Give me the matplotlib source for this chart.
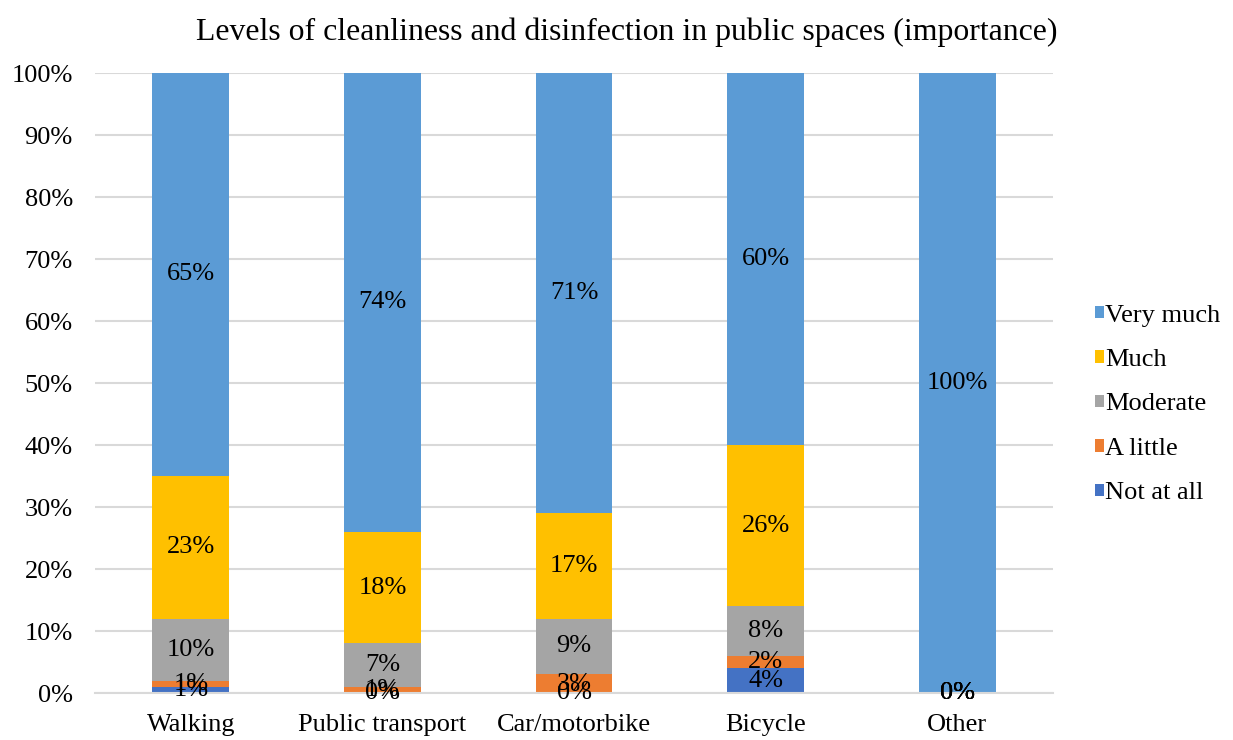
import matplotlib
matplotlib.use("Agg")
import matplotlib.pyplot as plt
import numpy as np

modes = ["Walking", "Public transport", "Car/motorbike", "Bicycle", "Other"]
levels = ["Not at all", "A little", "Moderate", "Much", "Very much"]
not_at_all = [1, 0, 0, 4, 0]
a_little = [1, 1, 3, 2, 0]
moderate = [10, 7, 9, 8, 0]
much = [23, 18, 17, 26, 0]
very_much = [65, 74, 71, 60, 100]
series = [not_at_all, a_little, moderate, much, very_much]
colors = ["#4472C4", "#ED7D31", "#A5A5A5", "#FFC000", "#5B9BD5"]

plt.rcParams["font.family"] = ["Liberation Serif", "DejaVu Serif"]

fig = plt.figure(figsize=(12.33, 7.40), dpi=100)
ax = fig.add_axes([95 / 1233, 1 - 693 / 740, (1053 - 95) / 1233, (693 - 73) / 740])

x = np.arange(len(modes))
bottom = np.zeros(len(modes))
handles = []
for name, vals, col in zip(levels, series, colors):
    vals = np.array(vals, dtype=float)
    h = ax.bar(x, vals, 0.4, bottom=bottom, color=col, label=name, zorder=2)
    handles.append(h)
    for xi, b, v in zip(x, bottom, vals):
        ax.text(xi, b + v / 2, f"{int(v)}%", ha="center", va="center",
                fontsize=19, color="black", zorder=3)
    bottom += vals

ax.set_xlim(-0.5, len(modes) - 0.5)
ax.set_ylim(0, 100)
ax.set_yticks(np.arange(0, 101, 10))
ax.set_yticklabels([f"{v}%" for v in range(0, 101, 10)], fontsize=19)
ax.set_xticks(x)
ax.set_xticklabels(modes, fontsize=19)
ax.tick_params(axis="y", length=0, pad=16)
ax.tick_params(axis="x", length=0, pad=15)
ax.yaxis.grid(True, color="#D9D9D9", linewidth=1.5, zorder=0)
for s in ["top", "right", "left"]:
    ax.spines[s].set_visible(False)
ax.spines["bottom"].set_color("#D9D9D9")
ax.spines["bottom"].set_linewidth(1.5)

fig.text(0.508, 0.957, "Levels of cleanliness and disinfection in public spaces (importance)",
         ha="center", va="center", fontsize=22.9)

fig.legend(handles[::-1], levels[::-1], loc="upper left",
           bbox_to_anchor=(1084 / 1233, 1 - 294 / 740), frameon=False,
           fontsize=19, handlelength=0.35, handleheight=0.35, handletextpad=0.06,
           labelspacing=0.85, borderpad=0.4, borderaxespad=0)

fig.savefig("out.png", dpi=100)
